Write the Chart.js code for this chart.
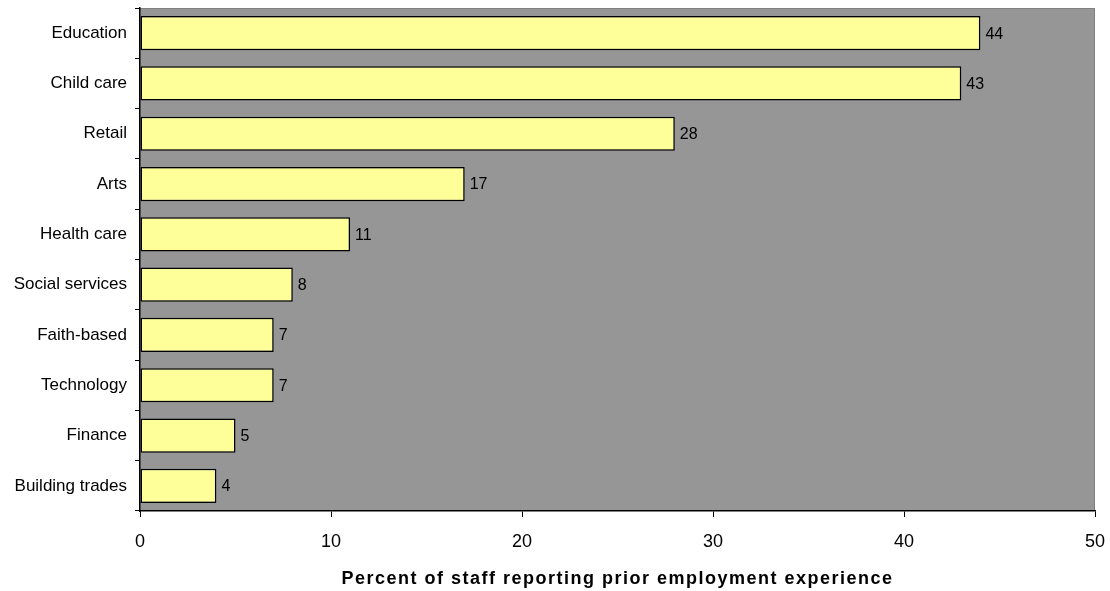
<!DOCTYPE html>
<html>
<head>
<meta charset="utf-8">
<script src="https://cdn.jsdelivr.net/npm/chart.js@4/dist/chart.umd.min.js"></script>
<style>
  html, body { margin: 0; padding: 0; background: #fff; }
  #wrap { width: 1110px; height: 591px; }
</style>
</head>
<body>
<div id="wrap"><canvas id="c" width="1110" height="591"></canvas></div>
<script>
const categories = ["Education", "Child care", "Retail", "Arts", "Health care", "Social services", "Faith-based", "Technology", "Finance", "Building trades"];
const values = [44, 43, 28, 17, 11, 8, 7, 7, 5, 4];
const xTicks = [0, 10, 20, 30, 40, 50];
const axisTitle = "Percent of staff reporting prior employment experience";

const FONT = "'Liberation Sans', Arial, sans-serif";

const plotBg = {
  id: 'plotBg',
  beforeDraw(chart) {
    const { ctx, chartArea: a } = chart;
    ctx.save();
    ctx.fillStyle = '#969696';
    ctx.fillRect(a.left, a.top, a.right - a.left, a.bottom - a.top);
    ctx.strokeStyle = '#808080';
    ctx.lineWidth = 1;
    ctx.beginPath();
    ctx.moveTo(a.left, a.top + 0.5);
    ctx.lineTo(a.right - 0.5, a.top + 0.5);
    ctx.lineTo(a.right - 0.5, a.bottom);
    ctx.stroke();
    ctx.restore();
  }
};

const barLabels = {
  id: 'barLabels',
  afterDatasetsDraw(chart) {
    const { ctx } = chart;
    const meta = chart.getDatasetMeta(0);
    ctx.save();
    ctx.font = '16px ' + FONT;
    ctx.fillStyle = '#000';
    ctx.textAlign = 'left';
    ctx.textBaseline = 'middle';
    meta.data.forEach((el, i) => {
      ctx.fillText(String(values[i]), el.x + 5, el.y + 1);
    });
    ctx.restore();
  }
};

const xTitle = {
  id: 'xTitle',
  afterDraw(chart) {
    const { ctx, chartArea: a } = chart;
    ctx.save();
    ctx.font = 'bold 18px ' + FONT;
    if ('letterSpacing' in ctx) ctx.letterSpacing = '1.5px';
    ctx.fillStyle = '#000';
    ctx.textAlign = 'center';
    ctx.textBaseline = 'middle';
    ctx.fillText(axisTitle, (a.left + a.right) / 2, 579);
    ctx.restore();
  }
};

new Chart(document.getElementById('c'), {
  type: 'bar',
  data: {
    labels: categories,
    datasets: [{
      data: values,
      backgroundColor: '#FFFF99',
      borderColor: '#000000',
      borderWidth: 1.5,
      borderSkipped: false,
      barPercentage: 0.68,
      categoryPercentage: 1.0
    }]
  },
  options: {
    indexAxis: 'y',
    responsive: false,
    animation: false,
    layout: { padding: { top: 8, right: 15, bottom: 0, left: 0 } },
    plugins: {
      legend: { display: false },
      tooltip: { enabled: false }
    },
    scales: {
      x: {
        min: 0, max: 50,
        afterBuildTicks(axis) { axis.ticks = xTicks.map(v => ({ value: v })); },
        afterFit(axis) { axis.height = 80; axis.paddingLeft = 0; axis.paddingRight = 0; },
        grid: { drawOnChartArea: false, drawTicks: true, tickLength: 6, color: '#000' },
        border: { color: '#000', width: 1.5 },
        ticks: { color: '#000', font: { family: FONT, size: 18 }, padding: 14, maxRotation: 0 },
        title: { display: false }
      },
      y: {
        afterFit(axis) { axis.width = 140; axis.paddingTop = 0; axis.paddingBottom = 0; },
        grid: { drawOnChartArea: false, drawTicks: true, tickLength: 5, color: '#000', offset: true },
        border: { color: '#000', width: 1.5 },
        ticks: { color: '#000', font: { family: FONT, size: 17 }, padding: 8 }
      }
    }
  },
  plugins: [plotBg, barLabels, xTitle]
});
</script>
</body>
</html>
